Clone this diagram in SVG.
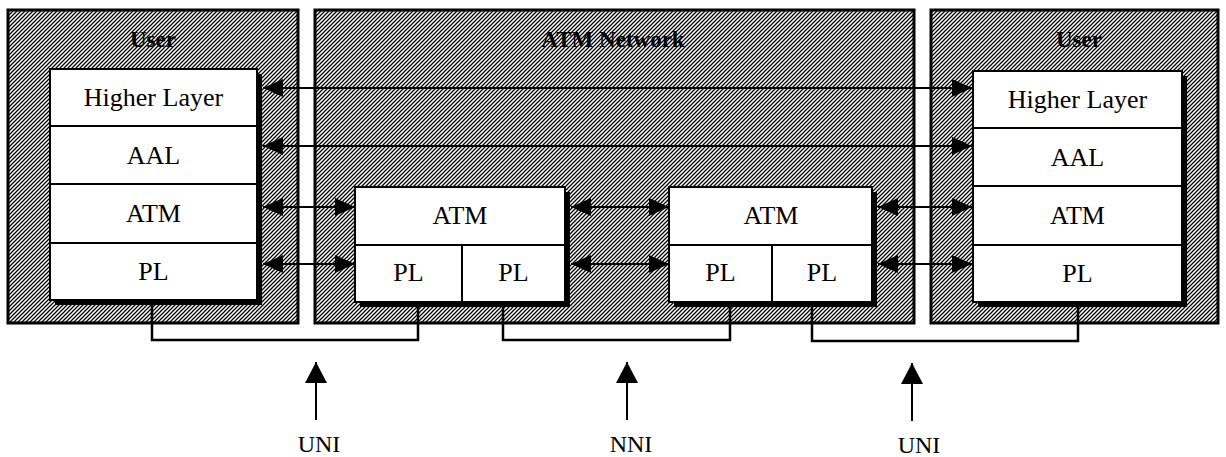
<svg xmlns="http://www.w3.org/2000/svg" width="1226" height="457" viewBox="0 0 1226 457">
  <defs>
    <pattern id="hatch" patternUnits="userSpaceOnUse" width="4" height="4">
      <rect width="4" height="4" fill="#ffffff"/>
      <path d="M-1,1 L1,-1 M0,4 L4,0 M3,5 L5,3" stroke="#000" stroke-width="1.25"/>
    </pattern>
    <marker id="ah" viewBox="0 0 20 18" refX="20" refY="9" markerWidth="20" markerHeight="18" markerUnits="userSpaceOnUse" orient="auto-start-reverse">
      <path d="M0,0 L20,9 L0,18 z" fill="#000"/>
    </marker>
    <marker id="up" viewBox="0 0 21 22" refX="21" refY="11" markerWidth="21" markerHeight="22" markerUnits="userSpaceOnUse" orient="auto">
      <path d="M0,0 L21,11 L0,22 z" fill="#000"/>
    </marker>
    <style>
      .outer { fill: url(#hatch); stroke: #000; stroke-width: 3; }
      .shadow { fill: #000; }
      .cell { fill: #fff; stroke: #000; stroke-width: 2; }
      .div { stroke: #000; stroke-width: 2; fill: none; }
      .title { font-family: "Liberation Serif", "Times New Roman", serif; font-size: 23px; font-weight: bold; text-anchor: middle; fill: #000; }
      .lbl { font-family: "Liberation Serif", "Times New Roman", serif; font-size: 26px; text-anchor: middle; fill: #000; }
      .if { font-family: "Liberation Serif", "Times New Roman", serif; font-size: 24px; text-anchor: middle; fill: #000; }
      .conn { stroke: #000; stroke-width: 2; fill: none; }
      .br { stroke: #000; stroke-width: 2.5; fill: none; }
    </style>
  </defs>

  <g id="user-left">
    <rect class="outer" x="8" y="10" width="290" height="313"/>
    <text class="title" x="153" y="47">User</text>
    <rect class="shadow" x="55" y="74" width="207" height="231"/>
    <rect class="cell" x="50" y="69" width="207" height="231"/>
    <path class="div" d="M50,126 H257 M50,184 H257 M50,243 H257"/>
    <text class="lbl" x="153.5" y="106">Higher Layer</text>
    <text class="lbl" x="153.5" y="164">AAL</text>
    <text class="lbl" x="153.5" y="222">ATM</text>
    <text class="lbl" x="153.5" y="280">PL</text>
  </g>

  <g id="atm-network">
    <rect class="outer" x="315" y="10" width="599" height="313"/>
    <text class="title" x="613" y="47">ATM Network</text>
  </g>

  <g id="switch-1">
    <rect class="shadow" x="360" y="192" width="210" height="115"/>
    <rect class="cell" x="355" y="187" width="210" height="115"/>
    <path class="div" d="M355,245 H565 M462,245 V302"/>
    <text class="lbl" x="460" y="224">ATM</text>
    <text class="lbl" x="408.5" y="281">PL</text>
    <text class="lbl" x="513.5" y="281">PL</text>
  </g>

  <g id="switch-2">
    <rect class="shadow" x="674" y="192" width="203" height="115"/>
    <rect class="cell" x="669" y="187" width="203" height="115"/>
    <path class="div" d="M669,245 H872 M772,245 V302"/>
    <text class="lbl" x="771" y="224">ATM</text>
    <text class="lbl" x="720.5" y="281">PL</text>
    <text class="lbl" x="822" y="281">PL</text>
  </g>

  <g id="user-right">
    <rect class="outer" x="931" y="10" width="287" height="313"/>
    <text class="title" x="1079" y="47">User</text>
    <rect class="shadow" x="978" y="76" width="209" height="231"/>
    <rect class="cell" x="973" y="71" width="209" height="231"/>
    <path class="div" d="M973,128 H1182 M973,186 H1182 M973,245 H1182"/>
    <text class="lbl" x="1077.5" y="108">Higher Layer</text>
    <text class="lbl" x="1077.5" y="166">AAL</text>
    <text class="lbl" x="1077.5" y="224">ATM</text>
    <text class="lbl" x="1077.5" y="282">PL</text>
  </g>

  <g id="connectors">
    <line class="conn" x1="263" y1="88" x2="972" y2="88" marker-start="url(#ah)" marker-end="url(#ah)"/>
    <line class="conn" x1="263" y1="146" x2="972" y2="146" marker-start="url(#ah)" marker-end="url(#ah)"/>
    <line class="conn" x1="263" y1="207" x2="355" y2="207" marker-start="url(#ah)" marker-end="url(#ah)"/>
    <line class="conn" x1="263" y1="264" x2="355" y2="264" marker-start="url(#ah)" marker-end="url(#ah)"/>
    <line class="conn" x1="571" y1="207" x2="669" y2="207" marker-start="url(#ah)" marker-end="url(#ah)"/>
    <line class="conn" x1="571" y1="264" x2="669" y2="264" marker-start="url(#ah)" marker-end="url(#ah)"/>
    <line class="conn" x1="878" y1="207" x2="972" y2="207" marker-start="url(#ah)" marker-end="url(#ah)"/>
    <line class="conn" x1="878" y1="264" x2="972" y2="264" marker-start="url(#ah)" marker-end="url(#ah)"/>
    <path class="br" d="M152,305 V340 H418 V305"/>
    <path class="br" d="M503,307 V340 H730 V307"/>
    <path class="br" d="M812,307 V341 H1078 V307"/>
    <line class="conn" x1="316" y1="420" x2="316" y2="362" marker-end="url(#up)"/>
    <line class="conn" x1="627" y1="420" x2="627" y2="362" marker-end="url(#up)"/>
    <line class="conn" x1="912" y1="421" x2="912" y2="363" marker-end="url(#up)"/>
  </g>

  <g id="labels">
    <text class="if" x="319" y="452">UNI</text>
    <text class="if" x="631" y="452">NNI</text>
    <text class="if" x="919" y="453">UNI</text>
  </g>
</svg>
